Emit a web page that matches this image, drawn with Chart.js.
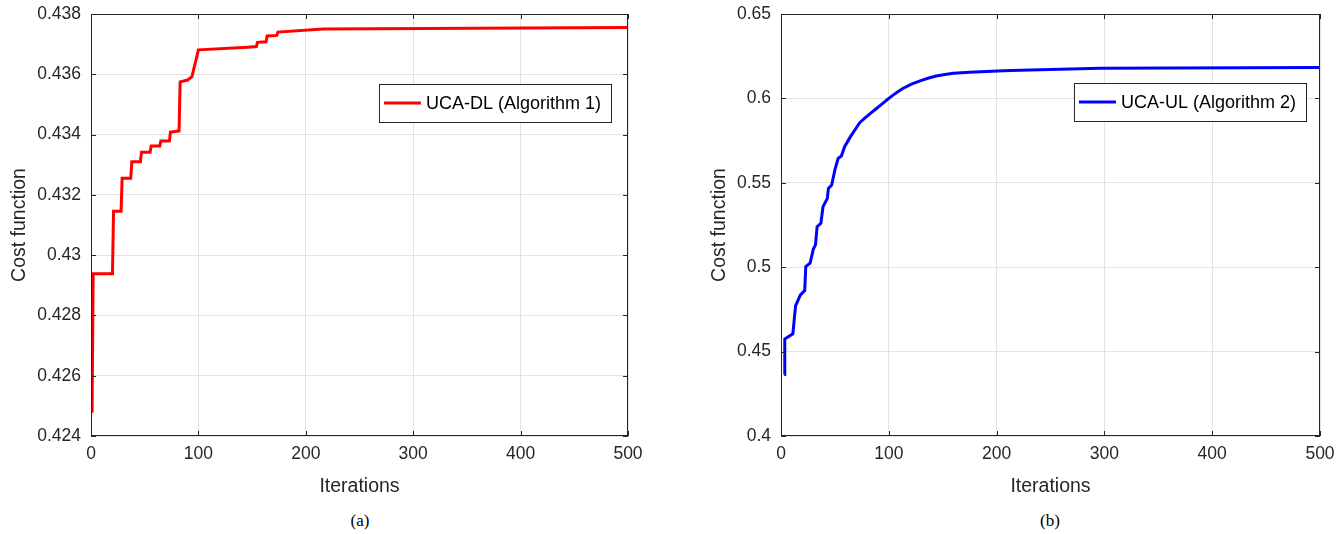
<!DOCTYPE html>
<html>
<head>
<meta charset="utf-8">
<script src="https://cdn.jsdelivr.net/npm/chart.js@4/dist/chart.umd.min.js"></script>
<style>
  html, body { margin: 0; padding: 0; background: #fff; }
  body { width: 1343px; height: 534px; position: relative; overflow: hidden; }
  .box { position: absolute; top: 0; height: 500px; }
  #boxA { left: 0; width: 660px; }
  #boxB { left: 700px; width: 643px; }
  .cap { position: absolute; top: 511px; font-family: "Liberation Serif", "Times New Roman", serif; font-size: 17px; color: #000; transform: translateX(-50%); }
</style>
</head>
<body>
<div class="box" id="boxA"><canvas id="chartA"></canvas></div>
<div class="box" id="boxB"><canvas id="chartB"></canvas></div>
<div class="cap" style="left:360px">(a)</div>
<div class="cap" style="left:1050px">(b)</div>
<script>
// (a) UCA-DL (polyline vertices)
const iterA = [1, 2, 20, 21, 28, 29, 37, 38, 46, 47, 55, 56, 64, 65, 73, 74, 82, 83, 90, 94, 100, 146, 154, 155, 163, 164, 173, 174, 216, 500];
const costA = [0.42477, 0.42938, 0.42938, 0.43146, 0.43146, 0.43255, 0.43255, 0.4331, 0.4331, 0.43341, 0.43341, 0.43362, 0.43362, 0.43379, 0.43379, 0.43408, 0.43412, 0.43575, 0.43581, 0.43592, 0.43681, 0.4369, 0.43692, 0.43706, 0.43708, 0.43727, 0.43729, 0.4374, 0.4375, 0.43755];

// (b) UCA-UL
const iterB = [3, 3.5, 11, 13.5, 18, 22, 23, 27, 30, 32, 33.5, 37, 39, 43, 44, 47, 50, 53, 56, 59, 64, 69, 73, 78, 83, 88, 93, 98, 103, 108, 113, 121, 129, 137, 144, 152, 160, 175, 191, 206, 222, 296, 500];
const costB = [0.4365, 0.4574, 0.4605, 0.4771, 0.4836, 0.4862, 0.5004, 0.5024, 0.5107, 0.5132, 0.524, 0.526, 0.5359, 0.5408, 0.5467, 0.5487, 0.5576, 0.5645, 0.5659, 0.5714, 0.5769, 0.5817, 0.5856, 0.5884, 0.5911, 0.5937, 0.5963, 0.599, 0.6015, 0.6038, 0.6059, 0.6084, 0.6104, 0.6121, 0.6133, 0.6142, 0.6149, 0.6155, 0.616, 0.6164, 0.6167, 0.6178, 0.6183];

const xTicks = [0, 100, 200, 300, 400, 500];
const xTickLabels = ['0', '100', '200', '300', '400', '500'];
const yTicksA = [0.424, 0.426, 0.428, 0.43, 0.432, 0.434, 0.436, 0.438];
const yTickLabelsA = ['0.424', '0.426', '0.428', '0.43', '0.432', '0.434', '0.436', '0.438'];
const yTicksB = [0.4, 0.45, 0.5, 0.55, 0.6, 0.65];
const yTickLabelsB = ['0.4', '0.45', '0.5', '0.55', '0.6', '0.65'];

const labelA = 'UCA-DL (Algorithm 1)';
const labelB = 'UCA-UL (Algorithm 2)';

const TXT = '#262626';
const GRID = '#e3e3e3';
const FONT = '"Liberation Sans", Arial, Helvetica, sans-serif';

// matlab-style box with inward ticks + legend drawn inside the axes
const boxPlugin = {
    id: 'mbox',
    afterDatasetsDraw(chart, args, opts) {
        const ctx = chart.ctx;
        const a = chart.chartArea;
        const xs = chart.scales.x, ys = chart.scales.y;
        ctx.save();
        ctx.strokeStyle = TXT;
        ctx.lineWidth = 1;
        ctx.strokeRect(a.left + 0.5, a.top + 0.5, a.right - a.left - 1, a.bottom - a.top - 1);
        ctx.beginPath();
        xs.ticks.forEach(t => {
            const px = Math.round(xs.getPixelForValue(t.value)) + 0.5;
            ctx.moveTo(px, a.bottom); ctx.lineTo(px, a.bottom - 5);
            ctx.moveTo(px, a.top); ctx.lineTo(px, a.top + 5);
        });
        ys.ticks.forEach(t => {
            const py = Math.round(ys.getPixelForValue(t.value)) + 0.5;
            ctx.moveTo(a.left, py); ctx.lineTo(a.left + 5, py);
            ctx.moveTo(a.right, py); ctx.lineTo(a.right - 5, py);
        });
        ctx.stroke();

        // legend
        const ds = chart.data.datasets[0];
        ctx.font = '18px ' + FONT;
        const tw = ctx.measureText(ds.label).width;
        const w = 5 + 37 + 5 + tw + 10;
        const h = 38;
        const x0 = a.right - opts.inset - w;
        const y0 = a.top + opts.top;
        ctx.fillStyle = '#fff';
        ctx.fillRect(x0, y0, w, h);
        ctx.strokeStyle = TXT;
        ctx.strokeRect(x0 + 0.5, y0 + 0.5, w, h);
        ctx.beginPath();
        ctx.strokeStyle = ds.borderColor;
        ctx.lineWidth = 3;
        ctx.moveTo(x0 + 5, y0 + h / 2);
        ctx.lineTo(x0 + 42, y0 + h / 2);
        ctx.stroke();
        ctx.fillStyle = '#000';
        ctx.textBaseline = 'middle';
        ctx.fillText(ds.label, x0 + 47, y0 + h / 2 + 1);
        ctx.restore();
    }
};

function makeChart(id, iters, costs, label, color, yTicks, yLabels, yW, legendPos) {
    const ctx = document.getElementById(id).getContext('2d');
    return new Chart(ctx, {
        type: 'line',
        data: {
            datasets: [{
                label: label,
                data: iters.map((v, i) => ({ x: v, y: costs[i] })),
                borderColor: color,
                borderWidth: 3,
                pointRadius: 0,
                tension: 0,
                fill: false,
            }]
        },
        options: {
            responsive: true,
            maintainAspectRatio: false,
            animation: false,
            layout: { padding: { top: 14, right: legendPos.right, bottom: 0, left: 0 } },
            plugins: {
                legend: { display: false },
                tooltip: { enabled: false },
                mbox: { inset: legendPos.inset, top: legendPos.top },
            },
            scales: {
                x: {
                    type: 'linear',
                    min: 0, max: 500,
                    afterBuildTicks: s => { s.ticks = xTicks.map(v => ({ value: v })); },
                    afterFit: s => { s.height = 64; s.paddingLeft = 0; s.paddingRight = 0; },
                    grid: { color: GRID, drawTicks: false },
                    border: { display: false },
                    ticks: {
                        padding: 8,
                        color: TXT,
                        font: { family: FONT, size: 17.5 },
                        maxRotation: 0,
                        callback: (v, i) => xTickLabels[i],
                    },
                    title: {
                        display: true, text: 'Iterations', color: TXT,
                        font: { family: FONT, size: 19.5 },
                        padding: { top: 0, bottom: 2 },
                    },
                },
                y: {
                    type: 'linear',
                    min: yTicks[0], max: yTicks[yTicks.length - 1],
                    afterBuildTicks: s => { s.ticks = yTicks.map(v => ({ value: v })); },
                    afterFit: s => { s.width = yW; s.paddingTop = 0; s.paddingBottom = 0; },
                    grid: { color: GRID, drawTicks: false },
                    border: { display: false },
                    ticks: {
                        padding: 10,
                        color: TXT,
                        font: { family: FONT, size: 17.5 },
                        callback: (v, i) => yLabels[i],
                    },
                    title: {
                        display: true, text: 'Cost function', color: TXT,
                        font: { family: FONT, size: 19.5 },
                        padding: { top: 8, bottom: 0 },
                    },
                },
            },
        },
        plugins: [boxPlugin],
    });
}

makeChart('chartA', iterA, costA, labelA, '#ff0000', yTicksA, yTickLabelsA, 91, { right: 32, inset: 17, top: 70 });
makeChart('chartB', iterB, costB, labelB, '#0000ff', yTicksB, yTickLabelsB, 81, { right: 23, inset: 14, top: 69 });
</script>
</body>
</html>
